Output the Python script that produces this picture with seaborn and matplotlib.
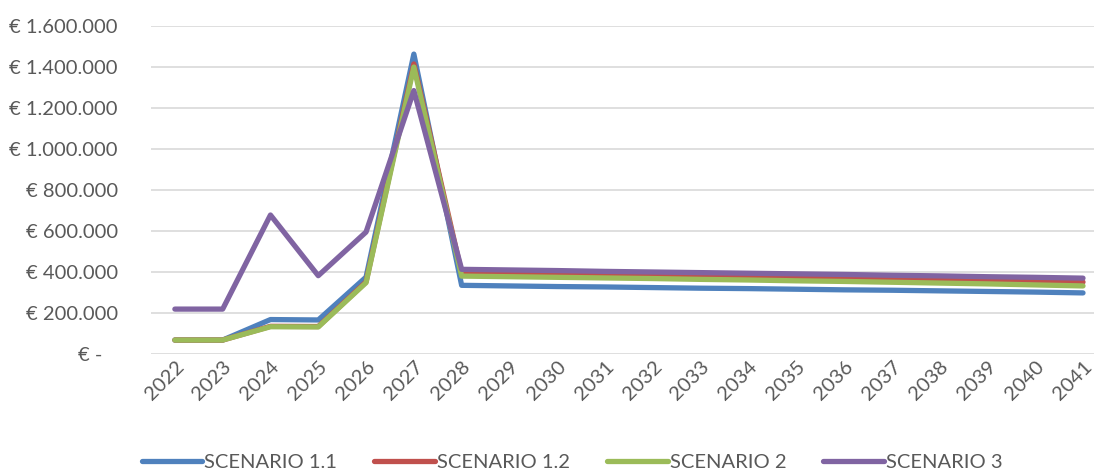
import matplotlib
matplotlib.use("Agg")
import matplotlib.pyplot as plt
import matplotlib.ticker as mticker
import seaborn as sns
import pandas as pd

years = [str(y) for y in range(2022, 2042)]

scenario_11 = [68000, 68000, 168000, 166000, 375000, 1463000, 335000, 332000, 329000, 327000,
               324000, 321000, 319000, 316000, 313000, 311000, 308000, 305000, 302000, 298000]
scenario_12 = [68000, 68000, 135000, 134000, 352000, 1415000, 395000, 392000, 389000, 386000,
               383000, 380000, 377000, 374000, 371000, 368000, 364000, 360000, 356000, 351000]
scenario_2 = [68000, 68000, 133000, 132000, 348000, 1400000, 380000, 377000, 374000, 371000,
              368000, 364000, 361000, 357000, 354000, 350000, 346000, 342000, 337000, 332000]
scenario_3 = [219000, 219000, 678000, 382000, 595000, 1285000, 413000, 410000, 407000, 403000,
              400000, 397000, 394000, 391000, 388000, 384000, 381000, 377000, 374000, 370000]

labels = ["SCENARIO 1.1", "SCENARIO 1.2", "SCENARIO 2", "SCENARIO 3"]
colors = ["#4F81BD", "#C0504D", "#9BBB59", "#8064A2"]

df = pd.concat([
    pd.DataFrame({"year": years, "value": vals, "scenario": lab})
    for lab, vals in zip(labels, [scenario_11, scenario_12, scenario_2, scenario_3])
])

sns.set_style("white")
plt.rcParams['font.family'] = ['Lato', 'DejaVu Sans']

fig = plt.figure(figsize=(10.94, 4.73), dpi=100)
ax = fig.add_axes([0.138, 0.2516, 0.862, 0.6934])

sns.lineplot(data=df, x="year", y="value", hue="scenario", palette=colors,
             linewidth=3.8, sort=False, ax=ax, legend=False)
for line in ax.lines:
    line.set_solid_capstyle("round")
    line.set_solid_joinstyle("round")

ax.set_ylim(0, 1600000)
ax.set_xlim(-0.5, 19.23)
ax.yaxis.set_major_locator(mticker.MultipleLocator(200000))


def euro(v, pos):
    if v == 0:
        return "€ -   "
    return "€ " + f"{int(v):,}".replace(",", ".")


ax.yaxis.set_major_formatter(mticker.FuncFormatter(euro))
ax.grid(axis="y", color="#D9D9D9", linewidth=1.2)
ax.set_axisbelow(True)
for s in ax.spines.values():
    s.set_visible(False)
ax.set_xlabel("")
ax.set_ylabel("")
ax.tick_params(axis="y", length=0, pad=24, labelsize=14.5, labelcolor="#595959")
ax.tick_params(axis="x", length=0, pad=3, labelsize=14.5, labelcolor="#595959")
plt.setp(ax.get_xticklabels(), rotation=45, ha="right", rotation_mode="anchor")

handles = [plt.Line2D([], [], color=c, linewidth=3.8) for c in colors]
fig.legend(handles, labels, loc="lower center", bbox_to_anchor=(0.523, -0.035), ncol=4,
           frameon=False, fontsize=14.5, handlelength=3.0, handletextpad=0.1,
           columnspacing=1.85, labelcolor="#595959")

fig.savefig("out.png", dpi=100)
